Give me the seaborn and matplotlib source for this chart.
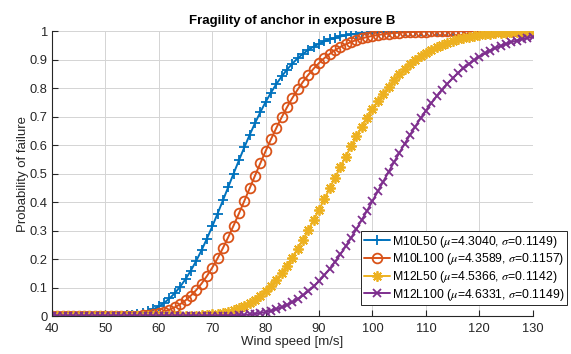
import matplotlib
matplotlib.use('Agg')
import matplotlib.pyplot as plt
import pandas as pd
import seaborn as sns

# ── Data ────────────────────────────────────────────────────────────────────
wind_speed = list(range(40, 131))

series_names = ['M10L50', 'M10L100', 'M12L50', 'M12L100']
mu_labels = ['4.3040', '4.3589', '4.5366', '4.6331']
sigma_labels = ['0.1149', '0.1157', '0.1142', '0.1149']

p_m10l50 = [
    0, 0, 0, 0, 0, 0, 0, 0, 0.0001, 0.0002,
    0.0003, 0.0006, 0.0011, 0.0018, 0.0031, 0.0049, 0.0077, 0.0116, 0.0170, 0.0244,
    0.0340, 0.0464, 0.0619, 0.0808, 0.1033, 0.1297, 0.1599, 0.1938, 0.2311, 0.2716,
    0.3146, 0.3596, 0.4060, 0.4530, 0.5002, 0.5467, 0.5920, 0.6355, 0.6768, 0.7155,
    0.7515, 0.7844, 0.8143, 0.8412, 0.8652, 0.8862, 0.9047, 0.9206, 0.9343, 0.9460,
    0.9558, 0.9641, 0.9710, 0.9767, 0.9814, 0.9852, 0.9883, 0.9908, 0.9928, 0.9944,
    0.9956, 0.9966, 0.9974, 0.9980, 0.9985, 0.9988, 0.9991, 0.9993, 0.9995, 0.9996,
    0.9997, 0.9998, 0.9998, 0.9998, 0.9998, 0.9998, 0.9999, 0.9999, 0.9999, 0.9999,
    0.9999, 1.0, 1.0, 1.0, 1.0, 1.0, 1.0, 1.0, 1.0, 1.0,
    1.0,
]
p_m10l100 = [
    0, 0, 0, 0, 0, 0, 0, 0, 0, 0,
    0.0001, 0.0001, 0.0002, 0.0004, 0.0007, 0.0012, 0.0020, 0.0032, 0.0049, 0.0075,
    0.0111, 0.0160, 0.0226, 0.0311, 0.0419, 0.0554, 0.0718, 0.0913, 0.1141, 0.1404,
    0.1700, 0.2028, 0.2386, 0.2771, 0.3178, 0.3602, 0.4038, 0.4481, 0.4925, 0.5363,
    0.5792, 0.6207, 0.6603, 0.6978, 0.7329, 0.7654, 0.7953, 0.8225, 0.8470, 0.8689,
    0.8884, 0.9055, 0.9204, 0.9334, 0.9445, 0.9540, 0.9621, 0.9689, 0.9746, 0.9794,
    0.9834, 0.9866, 0.9893, 0.9914, 0.9932, 0.9946, 0.9958, 0.9967, 0.9974, 0.9980,
    0.9984, 0.9988, 0.9991, 0.9993, 0.9994, 0.9996, 0.9997, 0.9998, 0.9998, 0.9999,
    0.9999, 0.9999, 0.9999, 1.0, 1.0, 1.0, 1.0, 1.0, 1.0, 1.0,
    1.0,
]
p_m12l50 = [
    0, 0, 0, 0, 0, 0, 0, 0, 0, 0,
    0, 0, 0, 0, 0, 0, 0, 0, 0, 0,
    0.0001, 0.0001, 0.0002, 0.0003, 0.0005, 0.0008, 0.0012, 0.0018, 0.0027, 0.0040,
    0.0058, 0.0082, 0.0114, 0.0156, 0.0209, 0.0275, 0.0357, 0.0457, 0.0576, 0.0716,
    0.0880, 0.1066, 0.1277, 0.1512, 0.1771, 0.2053, 0.2357, 0.2680, 0.3019, 0.3372,
    0.3737, 0.4108, 0.4484, 0.4860, 0.5234, 0.5601, 0.5960, 0.6307, 0.6641, 0.6958,
    0.7259, 0.7542, 0.7805, 0.8049, 0.8274, 0.8480, 0.8667, 0.8836, 0.8987, 0.9123,
    0.9244, 0.9350, 0.9444, 0.9526, 0.9597, 0.9659, 0.9713, 0.9759, 0.9798, 0.9831,
    0.9860, 0.9884, 0.9904, 0.9921, 0.9935, 0.9947, 0.9957, 0.9965, 0.9971, 0.9977,
    0.9981,
]
p_m12l100 = [
    0, 0, 0, 0, 0, 0, 0, 0, 0, 0,
    0, 0, 0, 0, 0, 0, 0, 0, 0, 0,
    0, 0, 0, 0, 0, 0, 0.0001, 0.0001, 0.0002, 0.0003,
    0.0004, 0.0006, 0.0010, 0.0014, 0.0021, 0.0030, 0.0042, 0.0059, 0.0081, 0.0109,
    0.0144, 0.0189, 0.0244, 0.0311, 0.0392, 0.0487, 0.0599, 0.0728, 0.0876, 0.1043,
    0.1230, 0.1437, 0.1664, 0.1909, 0.2172, 0.2453, 0.2748, 0.3057, 0.3377, 0.3705,
    0.4040, 0.4378, 0.4718, 0.5057, 0.5391, 0.5720, 0.6041, 0.6353, 0.6652, 0.6939,
    0.7212, 0.7470, 0.7714, 0.7941, 0.8152, 0.8348, 0.8528, 0.8693, 0.8844, 0.8981,
    0.9105, 0.9216, 0.9316, 0.9404, 0.9484, 0.9553, 0.9615, 0.9669, 0.9716, 0.9758,
    0.9793,
]

x_ticks = [40, 50, 60, 70, 80, 90, 100, 110, 120, 130]
y_ticks = [0, 0.1, 0.2, 0.3, 0.4, 0.5, 0.6, 0.7, 0.8, 0.9, 1]
y_tick_labels = ['0', '0.1', '0.2', '0.3', '0.4', '0.5', '0.6', '0.7', '0.8', '0.9', '1']

# ── Style ───────────────────────────────────────────────────────────────────
COLORS = ['#0072BD', '#D95319', '#EDB120', '#7E2F8E']
MARKERS = ['+', 'o', (8, 2, 0), 'x']
MARKER_SIZES = [7.5, 7, 7.5, 5.5]
INK = '#262626'

sns.set_theme(style='white')
plt.rcParams['font.family'] = ['Liberation Sans', 'DejaVu Sans']
plt.rcParams['mathtext.fontset'] = 'stix'

df = pd.DataFrame({
    'wind_speed': wind_speed * 4,
    'probability': p_m10l50 + p_m10l100 + p_m12l50 + p_m12l100,
    'series': [s for s in series_names for _ in wind_speed],
})

fig = plt.figure(figsize=(5.71, 3.54), dpi=100)
ax = fig.add_axes([0.091, 0.107, 0.842, 0.805])

for i, name in enumerate(series_names):
    sub = df[df['series'] == name]
    label = rf'{name} ($\mu$={mu_labels[i]}, $\sigma$={sigma_labels[i]})'
    sns.lineplot(
        data=sub, x='wind_speed', y='probability', ax=ax,
        color=COLORS[i], marker=MARKERS[i], markersize=MARKER_SIZES[i],
        markeredgecolor=COLORS[i], markeredgewidth=1.3,
        markerfacecolor='none' if MARKERS[i] == 'o' else COLORS[i],
        linewidth=1.4, label=label,
    )

ax.set_xlim(40, 130)
ax.set_ylim(0, 1)
ax.set_xticks(x_ticks)
ax.set_yticks(y_ticks)
ax.set_yticklabels(y_tick_labels)
ax.grid(True, color='#d4d4d4', linewidth=0.7)
ax.set_axisbelow(True)

for side in ['top', 'right']:
    ax.spines[side].set_visible(False)
for side in ['left', 'bottom']:
    ax.spines[side].set_color(INK)
    ax.spines[side].set_linewidth(0.8)

ax.tick_params(direction='in', length=4, width=0.8, colors=INK,
               labelsize=9.3, left=True, bottom=True)
ax.tick_params(axis='x', pad=5)
ax.tick_params(axis='y', pad=3)

ax.set_title('Fragility of anchor in exposure B', fontsize=9.5,
             fontweight='bold', color='black', pad=5)
ax.set_xlabel('Wind speed [m/s]', fontsize=9.5, color=INK, labelpad=1)
ax.set_ylabel('Probability of failure', fontsize=9.5, color=INK, labelpad=0.5)

leg = ax.legend(loc='lower right', bbox_to_anchor=(0.993, 0.138),
                bbox_transform=fig.transFigure, frameon=True, fancybox=False,
                framealpha=1, edgecolor=INK, fontsize=8.8, handlelength=2.1,
                handletextpad=0.2, labelspacing=0.14, borderpad=0.2,
                borderaxespad=0)
leg.get_frame().set_linewidth(0.7)
for text in leg.get_texts():
    text.set_color('black')

fig.savefig('out.png', dpi=100)
